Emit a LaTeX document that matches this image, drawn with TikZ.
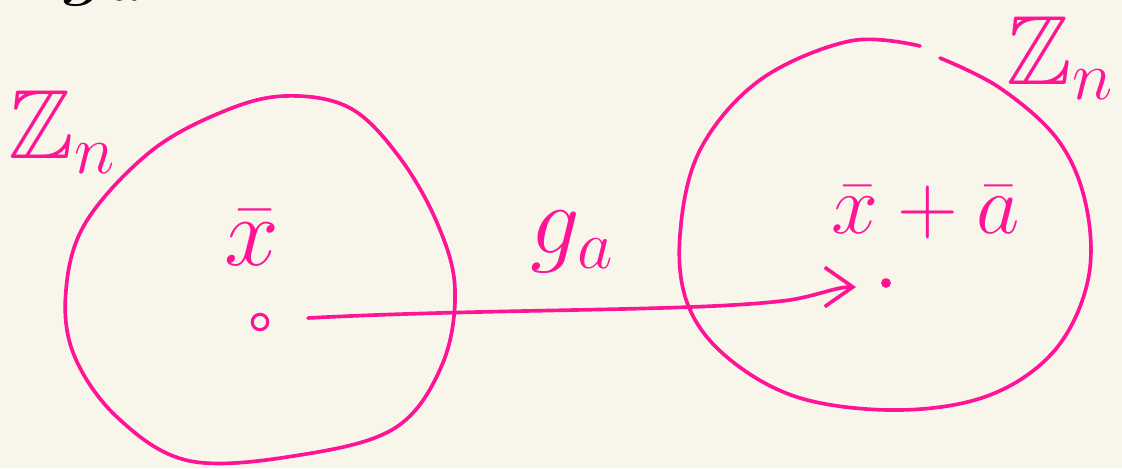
\RequirePackage{fix-cm}
\documentclass[tikz,border=0pt]{standalone}
\usepackage{amssymb}
\usetikzlibrary{arrows.meta}
\definecolor{bgcream}{RGB}{248,246,234}
\definecolor{pinkink}{RGB}{255,20,150}
\begin{document}
\begin{tikzpicture}[x=0.025cm,y=-0.025cm,
  ink/.style={draw=pinkink,line width=2.6pt,line cap=round,line join=round},
  lbl/.style={text=pinkink,font=\fontsize{70}{80}\selectfont,inner sep=0pt}]
\fill[bgcream] (0,0) rectangle (1122,468);
\useasboundingbox (0,0) rectangle (1122,468);
% clipped black label at top
\node[font=\fontsize{70}{80}\selectfont,inner sep=0pt,anchor=base west] (top) at (62,-14) {$g_a$};
% left blob
\draw[ink] plot[smooth cycle,tension=0.6] coordinates {(285,96) (350,108) (400,158) (438,225) (455,290) (442,365) (395,428) (300,455) (190,461) (118,418) (74,355) (66,290) (86,222) (150,152) (222,112)};
% right blob (gap at top)
\draw[ink] plot[smooth,tension=0.6] coordinates {(940,58) (1000,88) (1058,140) (1086,205) (1088,280) (1055,350) (990,395) (900,410) (800,398) (728,358) (688,305) (680,235) (700,150) (760,80) (850,41) (920,46)};
% labels
\node[lbl] (Zl) at (62,132) {$\mathbb{Z}_n$};
\node[lbl] (Zr) at (1060,58) {$\mathbb{Z}_n$};
\node[lbl] (xb) at (252,238) {$\bar{x}$};
\node[lbl] (ga) at (572,242) {$g_a$};
\node[lbl,font=\fontsize{60}{70}\selectfont] (xa) at (926,212) {$\bar{x}+\bar{a}$};
% points
\node[draw=pinkink,line width=2.2pt,circle,minimum size=11pt,inner sep=0pt] (p) at (260,322) {};
\node[fill=pinkink,circle,minimum size=7pt,inner sep=0pt] (q) at (886,283) {};
\coordinate (s) at (308,318);
\coordinate (e) at (856,287);
\draw[ink,-{Straight Barb[length=20pt,width=28pt,line width=2.6pt]}] (s) .. controls (500,308) and (700,312) .. (790,300) .. controls (820,295) and (835,287) .. (e);
\end{tikzpicture}
\end{document}
